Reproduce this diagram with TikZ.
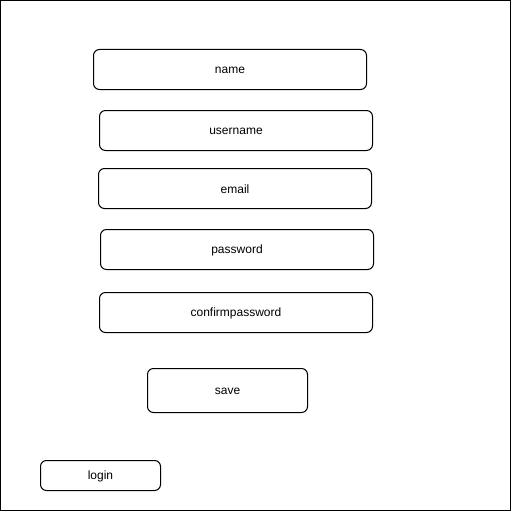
\documentclass[tikz,border=0pt]{standalone}
\usepackage{fontspec}
\setmainfont{Liberation Sans}
\begin{document}
\begin{tikzpicture}[x=1pt,y=-1pt,
  field/.style={draw=black,line width=1pt,rounded corners=6pt,fill=white},
  lbl/.style={font=\fontsize{12}{14}\selectfont,yshift=-1pt}]
\useasboundingbox (0,0) rectangle (511,511);
\draw[line width=1pt] (0.5,0.5) rectangle (510.5,510.5);
\draw[field] (93.5,49.5) rectangle node[lbl] (name) {name} (366.5,89.5);
\draw[field] (99.5,110.5) rectangle node[lbl] (username) {username} (372.5,150.5);
\draw[field] (98.5,168.5) rectangle node[lbl] (email) {email} (371.5,208.5);
\draw[field] (100.5,229.5) rectangle node[lbl] (password) {password} (373.5,269.5);
\draw[field] (99.5,292.5) rectangle node[lbl] (confirm) {confirmpassword} (372.5,332.5);
\draw[field] (147.5,368.5) rectangle node[lbl] (save) {save} (307.5,412.5);
\draw[field] (40.5,460.5) rectangle node[lbl] (login) {login} (160.5,490.5);
\end{tikzpicture}
\end{document}
